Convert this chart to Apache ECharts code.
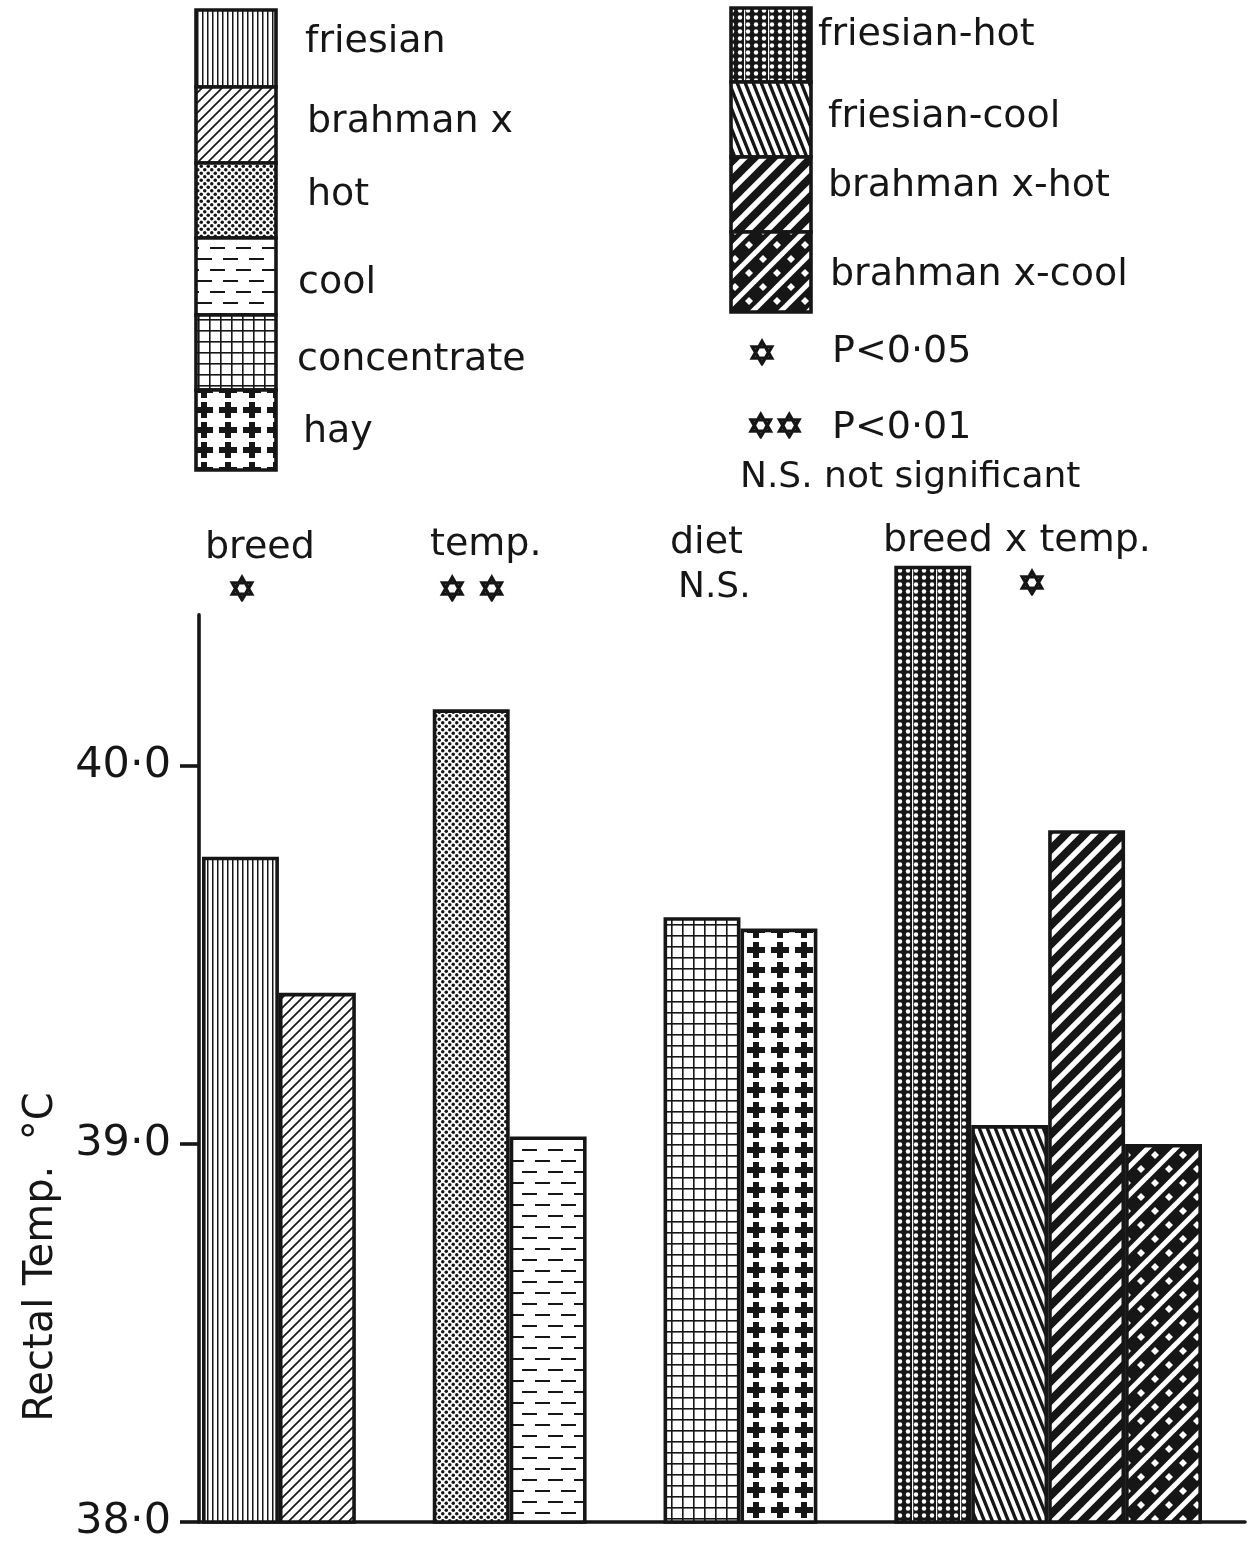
<!DOCTYPE html>
<html>
<head>
<meta charset="utf-8">
<title>Rectal temperature by breed, temperature and diet</title>
<script src="https://cdn.jsdelivr.net/npm/echarts@6/dist/echarts.min.js"></script>
<style>
  html, body { margin: 0; padding: 0; background: #fff; }
  #chart { width: 1257px; height: 1551px; }
</style>
</head>
<body>
<div id="chart"></div>
<script>
// ---- data ----
const barNames = ['friesian', 'brahman x', 'hot', 'cool', 'concentrate', 'hay',
                  'friesian-hot', 'friesian-cool', 'brahman x-hot', 'brahman x-cool'];
const barValues = [39.76, 39.40, 40.15, 39.02, 39.60, 39.57, 40.53, 39.05, 39.83, 39.00];
const barGroup = [0, 0, 1, 1, 2, 2, 3, 3, 3, 3];
const groupNames = ['breed', 'temp.', 'diet', 'breed x temp.'];
const groupSignificance = ['✡', '✡ ✡', 'N.S.', '✡'];
const yTicks = [38, 39, 40];
const sigSymbols = ['✡', '✡✡', 'N.S.'];
const sigMeaning = ['P<0·05', 'P<0·01', 'not significant'];

// ---- styling ----
const INK = '#161616';
const FONT = '"DejaVu Sans", sans-serif';
const EDGE = 3.6;

function tile(w, h, paint, bg) {
  const c = document.createElement('canvas');
  c.width = w; c.height = h;
  const g = c.getContext('2d');
  g.fillStyle = bg || '#fff';
  g.fillRect(0, 0, w, h);
  g.fillStyle = INK;
  g.strokeStyle = INK;
  paint(g, w, h);
  return { image: c, repeat: 'repeat' };
}
// "/" lines, drawn long so wide strokes stay seamless across tile edges
function slash(g, w, h) {
  for (let k = -2; k <= 2; k++) {
    g.beginPath(); g.moveTo(k * w - w, 2 * h); g.lineTo(k * w + 2 * w, -h); g.stroke();
  }
}
// "\" lines, same idea
function backslash(g, w, h) {
  for (let k = -2; k <= 2; k++) {
    g.beginPath(); g.moveTo(k * w - w, -h); g.lineTo(k * w + 2 * w, 2 * h); g.stroke();
  }
}
function dot(g, x, y, r) { g.beginPath(); g.arc(x, y, r, 0, Math.PI * 2); g.fill(); }
function diamond(g, x, y, r) {
  g.beginPath(); g.moveTo(x, y - r); g.lineTo(x + r, y); g.lineTo(x, y + r); g.lineTo(x - r, y); g.closePath(); g.fill();
}

const fills = {
  'friesian': tile(5, 10, g => g.fillRect(2, 0, 1.5, 10)),
  'brahman x': tile(10, 10, (g, w, h) => { g.lineWidth = 1.7; slash(g, w, h); }),
  'hot': tile(7, 7, g => { dot(g, 1.75, 1.75, 1.75); dot(g, 5.25, 5.25, 1.75); }),
  'cool': tile(26, 22, g => {
    g.fillRect(2, 5, 15, 2);
    g.fillRect(15, 16, 15, 2); g.fillRect(-11, 16, 15, 2);
  }),
  'concentrate': tile(11, 11, g => { g.fillRect(0, 0, 1.6, 11); g.fillRect(0, 0, 11, 1.6); }),
  'hay': tile(24, 20, g => { g.fillRect(3, 7, 18, 6); g.fillRect(9, 2, 6, 16); }),
  'friesian-hot': tile(24, 7, g => {
    g.fillStyle = '#fff';
    [4, 12, 20].forEach(x => dot(g, x, 3.5, 2.2));
    g.fillRect(0, 0, 1.2, 7);
  }, INK),
  'friesian-cool': tile(8, 20, (g, w, h) => { g.lineWidth = 3.4; backslash(g, w, h); }),
  'brahman x-hot': tile(19, 19, (g, w, h) => { g.lineWidth = 8; slash(g, w, h); }),
  'brahman x-cool': tile(28, 28, (g, w, h) => {
    g.strokeStyle = '#fff'; g.fillStyle = '#fff';
    g.lineWidth = 5; slash(g, w, h);
    diamond(g, 7, 7, 4); diamond(g, 21, 21, 4);
  }, INK)
};

// ---- category slots: bars of a group sit side by side, one empty slot between groups ----
const slots = [];
const slotData = [];
barNames.forEach((name, i) => {
  if (i > 0 && barGroup[i] !== barGroup[i - 1]) {
    slots.push('sep' + barGroup[i]);
    slotData.push('-');
  }
  slots.push(name);
  slotData.push({ name, value: barValues[i], itemStyle: { color: fills[name] } });
});

// ---- layout ----
const PX_PER_DEG = 378;
const BASE_Y = 1522;
const H = 1551;

const legendLeft = [
  { y: 10, h: 77, tx: 305, ty: 42 },
  { y: 87, h: 76, tx: 307, ty: 122 },
  { y: 163, h: 75, tx: 307, ty: 195 },
  { y: 238, h: 77, tx: 298, ty: 283 },
  { y: 315, h: 75, tx: 297, ty: 360 },
  { y: 390, h: 80, tx: 303, ty: 432 }
];
const legendRight = [
  { y: 8, h: 74, tx: 818, ty: 35 },
  { y: 82, h: 75, tx: 828, ty: 117 },
  { y: 157, h: 75, tx: 828, ty: 186 },
  { y: 232, h: 80, tx: 830, ty: 275 }
];

const graphics = [];
function text(x, y, str, size, align, extra, bold) {
  const style = {
    text: str, font: size + 'px ' + FONT, fill: INK,
    textAlign: align || 'left', textVerticalAlign: 'middle',
    align: align || 'left', verticalAlign: 'middle'
  };
  if (bold) { style.stroke = INK; style.lineWidth = bold; }
  return Object.assign({ type: 'text', x, y, silent: true, style }, extra || {});
}
barNames.forEach((name, i) => {
  const left = i < 6;
  const slot = left ? legendLeft[i] : legendRight[i - 6];
  const bx = left ? 196 : 731;
  graphics.push({
    type: 'rect', silent: true,
    shape: { x: bx, y: slot.y, width: 80, height: slot.h },
    style: { fill: fills[name], stroke: INK, lineWidth: EDGE }
  });
  graphics.push(text(slot.tx, slot.ty, name, 38));
});

// significance key
graphics.push(text(762, 356, sigSymbols[0], 34, 'center', null, 1.6));
graphics.push(text(832, 352, sigMeaning[0], 38));
graphics.push(text(775, 429, sigSymbols[1], 34, 'center', null, 1.6));
graphics.push(text(832, 428, sigMeaning[1], 38));
graphics.push(text(740, 478, sigSymbols[2] + ' ' + sigMeaning[2], 36));

// group headings and their significance marks
const headPos = [[205, 548], [430, 545], [670, 543], [883, 541]];
const sigPos = [[242, 592, 34], [472, 592, 34], [678, 588, 36], [1032, 586, 34]];
groupNames.forEach((g, i) => {
  graphics.push(text(headPos[i][0], headPos[i][1], g, 38));
  const s = groupSignificance[i];
  const isText = s === 'N.S.';
  graphics.push(text(sigPos[i][0], sigPos[i][1], s, sigPos[i][2],
    isText ? 'left' : 'center', null, isText ? 0 : 1.6));
});

// axis title
graphics.push(text(42, 1257, 'Rectal Temp.  °C', 40, 'center', { rotation: Math.PI / 2 }));

const chart = echarts.init(document.getElementById('chart'), null, { renderer: 'canvas' });
chart.setOption({
  animation: false,
  backgroundColor: '#fff',
  grid: [
    { left: 202, right: 55, top: BASE_Y - 2.6 * PX_PER_DEG, bottom: H - BASE_Y },
    { left: 199, right: 12, top: BASE_Y - 2.4 * PX_PER_DEG, bottom: H - BASE_Y }
  ],
  xAxis: [
    { gridIndex: 0, type: 'category', data: slots, show: false, boundaryGap: true },
    {
      gridIndex: 1, type: 'value', min: 0, max: 1,
      axisLine: { show: true, onZero: false, lineStyle: { color: INK, width: EDGE } },
      axisTick: { show: false }, axisLabel: { show: false }, splitLine: { show: false }
    }
  ],
  yAxis: [
    { gridIndex: 0, type: 'value', min: 38, max: 40.6, show: false },
    {
      gridIndex: 1, type: 'value', min: 38, max: 40.4,
      axisLine: { show: true, onZero: false, lineStyle: { color: INK, width: EDGE } },
      axisTick: { show: true, length: 19, customValues: yTicks, lineStyle: { color: INK, width: EDGE } },
      axisLabel: {
        customValues: yTicks, margin: 28,
        fontSize: 43, fontFamily: FONT, color: INK,
        formatter: v => v.toFixed(1).replace('.', '·')
      },
      splitLine: { show: false }
    }
  ],
  series: [{
    type: 'bar', xAxisIndex: 0, yAxisIndex: 0,
    data: slotData,
    barWidth: '100%',
    itemStyle: { borderColor: INK, borderWidth: EDGE },
    emphasis: { disabled: true }
  }],
  graphic: { elements: graphics }
});
</script>
</body>
</html>
